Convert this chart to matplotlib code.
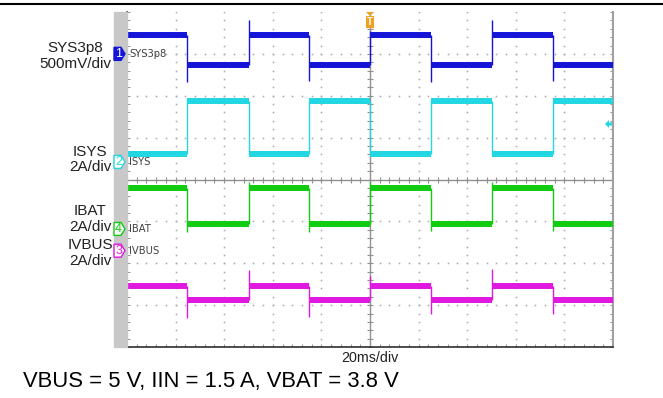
import matplotlib
matplotlib.use("Agg")
import matplotlib.pyplot as plt
import numpy as np
from matplotlib.patches import Polygon, Rectangle

W, H = 663, 398

# time of each switching edge, in divisions (20 ms/div)
edges = [1.24, 2.50, 3.75, 5.00, 6.25, 7.51, 8.77]

# level of each flat segment (divisions, 0 = bottom of screen) and the
# peak reached at each edge
sys_levels = [7.45, 6.73, 7.45, 6.73, 7.45, 6.73, 7.45, 6.73]
sys_spikes = [6.33, 7.80, 6.35, 7.55, 6.33, 7.82, 6.35]

isys_levels = [4.61, 5.88, 4.61, 5.88, 4.61, 5.88, 4.61, 5.88]
isys_spikes = [5.90, 4.58, 5.90, 4.55, 5.90, 4.58, 5.90]

ibat_levels = [3.80, 2.94, 3.80, 2.94, 3.80, 2.94, 3.80, 2.94]
ibat_spikes = [2.75, 3.94, 2.75, 3.94, 2.76, 3.94, 2.78]

ivbus_levels = [1.46, 1.13, 1.46, 1.13, 1.46, 1.13, 1.46, 1.13]
ivbus_spikes = [0.70, 1.84, 0.72, 1.70, 0.78, 1.86, 0.80]

channels = [
    ("SYS3p8", "1", "#1515d8", sys_levels, sys_spikes, 7.00, True),
    ("ISYS", "2", "#22d6e2", isys_levels, isys_spikes, 4.42, False),
    ("IBAT", "4", "#12cc12", ibat_levels, ibat_spikes, 2.82, False),
    ("IVBUS", "3", "#e018e0", ivbus_levels, ivbus_spikes, 2.30, False),
]

side_labels = [
    ("SYS3p8", 75, 48), ("500mV/div", 75, 64),
    ("ISYS", 90, 152), ("2A/div", 90, 167),
    ("IBAT", 90, 211), ("2A/div", 90, 227),
    ("IVBUS", 90, 245), ("2A/div", 90, 261),
]

caption = "VBUS = 5 V, IIN = 1.5 A, VBAT = 3.8 V"
timebase = "20ms/div"

SANS = ["Liberation Sans", "DejaVu Sans"]
NARROW = ["Liberation Sans Narrow", "DejaVu Sans"]


def fx(x):
    return x / W


def fy(y):
    return 1 - y / H


fig = plt.figure(figsize=(W / 100, H / 100), dpi=100)
L, R, T, B = 127, 613, 12, 347
ax = fig.add_axes([fx(L), fy(B), fx(R - L), fy(T) - fy(B)])
ax.set_xlim(0, 10)
ax.set_ylim(0, 8)

# screen graticule: dotted lines with a dot every 1/5 division
dot_c = "#a8a8a8"
for gx in range(1, 10):
    if gx == 5:
        continue
    yy = np.arange(0, 8.01, 0.2)
    ax.plot(np.full_like(yy, gx), yy, ls="none", marker="s", ms=1.1,
            mec="none", mfc=dot_c, zorder=1)
for gy in range(1, 8):
    if gy == 4:
        continue
    xx = np.arange(0, 10.01, 0.2)
    ax.plot(xx, np.full_like(xx, gy), ls="none", marker="s", ms=1.1,
            mec="none", mfc=dot_c, zorder=1)

# centre cross with minor ticks
ax.axvline(5, color="#909090", lw=1.0, zorder=1)
ax.axhline(4, color="#909090", lw=1.0, zorder=1)
yy = np.arange(0, 8.01, 0.2)
ax.plot(np.full_like(yy, 5), yy, ls="none", marker="_", ms=5, mew=0.8,
        color="#909090", zorder=1)
xx = np.arange(0, 10.01, 0.2)
ax.plot(xx, np.full_like(xx, 4), ls="none", marker="|", ms=5, mew=0.8,
        color="#909090", zorder=1)

# traces: thick noisy-looking flats, thin vertical edges
starts = [0] + edges
ends = edges + [10]
for name, num, col, levels, spikes, mk_y, filled in channels:
    ax.hlines(levels, starts, ends, colors=col, lw=4.3, zorder=3,
              capstyle="butt")
    for e, a, b, s in zip(edges, levels[:-1], levels[1:], spikes):
        lo, hi = min(a, b, s), max(a, b, s)
        ax.vlines(e, lo, hi, colors=col, lw=1.0, zorder=3)

ax.spines["top"].set_visible(False)
ax.spines["left"].set_color("#303030")
ax.spines["bottom"].set_color("#303030")
ax.spines["right"].set_color("#a0a0a0")
ax.spines["left"].set_linewidth(1.2)
ax.spines["bottom"].set_linewidth(1.2)
ax.spines["right"].set_linewidth(1.5)
ax.set_xticks(np.arange(0, 10.01, 0.2))
ax.set_yticks(np.arange(0, 8.01, 0.2))
ax.tick_params(direction="in", length=2.5, width=0.7, color="#909090",
               labelleft=False, labelbottom=False, right=True, top=False)

# grey strip left of the screen
fig.patches.append(Rectangle((fx(114), fy(B)), fx(13), fy(T) - fy(B),
                             transform=fig.transFigure, color="#c8c8c8",
                             zorder=0))

# channel markers and names
for name, num, col, levels, spikes, mk_y, filled in channels:
    yp = T + (8 - mk_y) * (B - T) / 8
    pts = [(114, yp - 6.5), (121, yp - 6.5), (125, yp), (121, yp + 6.5),
           (114, yp + 6.5)]
    fig.patches.append(Polygon([(fx(px), fy(py)) for px, py in pts],
                               closed=True, transform=fig.transFigure,
                               fc=col if filled else "white", ec=col, lw=1.0,
                               zorder=5))
    fig.text(fx(118.5), fy(yp), num, color="white" if filled else col,
             fontsize=9, ha="center", va="center", family=SANS, zorder=6)
    fig.text(fx(129), fy(yp), name, color="#404040", fontsize=7.2,
             ha="left", va="center", family=NARROW)

for txt, cx, cy in side_labels:
    fig.text(fx(cx), fy(cy), txt, fontsize=11, ha="center", va="center",
             color="#222222", family=SANS)

# trigger marker
tx = 370
fig.patches.append(Polygon([(fx(tx - 4), fy(12)), (fx(tx + 4), fy(12)),
                            (fx(tx), fy(16))], closed=True,
                           transform=fig.transFigure, fc="#f0a020",
                           ec="none", zorder=6))
fig.patches.append(Rectangle((fx(tx - 4.5), fy(28)), fx(9), fy(16) - fy(28),
                             transform=fig.transFigure, fc="#f0a020",
                             ec="none", zorder=6))
fig.text(fx(tx), fy(22), "T", color="white", fontsize=7, ha="center",
         va="center", family=SANS, weight="bold", zorder=7)

# cyan trigger-level arrow at the right edge
ay = 124
fig.patches.append(Polygon([(fx(605), fy(ay)), (fx(609), fy(ay - 4)),
                            (fx(609), fy(ay - 1.5)), (fx(612), fy(ay - 1.5)),
                            (fx(612), fy(ay + 1.5)), (fx(609), fy(ay + 1.5)),
                            (fx(609), fy(ay + 4))], closed=True,
                           transform=fig.transFigure, fc="#22d6e2",
                           ec="none", zorder=6))

# header rule
fig.add_artist(plt.Line2D([0, 1], [fy(4), fy(4)], transform=fig.transFigure,
                          color="black", lw=1.5))

fig.text(fx(370), fy(358), timebase, fontsize=10.3, ha="center",
         va="center", color="#222222", family=SANS)
fig.text(fx(23), fy(381), caption, fontsize=15.8, ha="left", va="center",
         color="black", family=SANS)

fig.savefig("out.png", dpi=100)
